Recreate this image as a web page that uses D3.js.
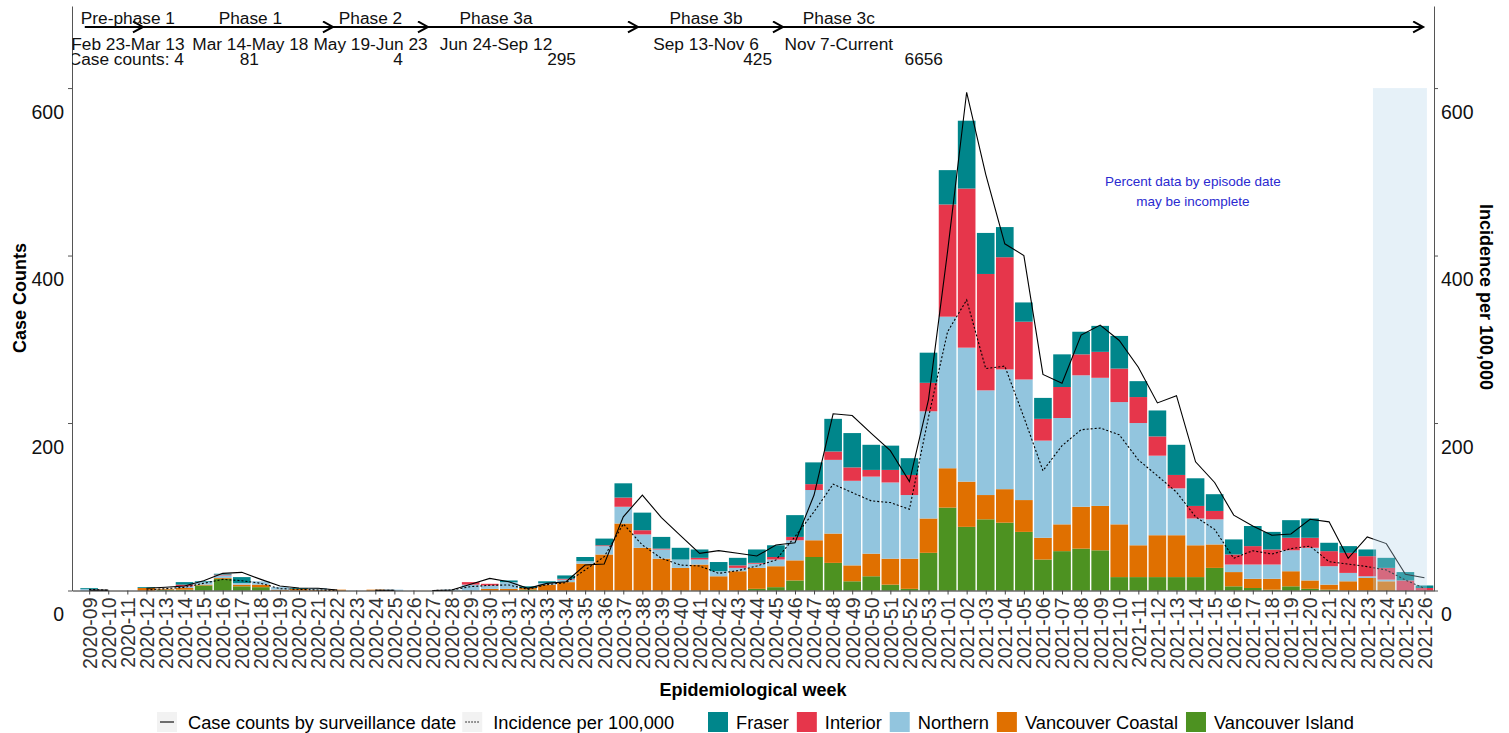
<!DOCTYPE html>
<html>
<head>
<meta charset="utf-8">
<script src="https://cdn.jsdelivr.net/npm/d3@7"></script>
<style>
  body { margin: 0; background: #fff; }
  text { font-family: "Liberation Sans", Arial, sans-serif; }
</style>
</head>
<body>
<svg id="chart"></svg>
<script>
// epidemiological weeks (x categories)
var weeks = ['2020-09','2020-10','2020-11','2020-12','2020-13','2020-14','2020-15','2020-16','2020-17','2020-18',
  '2020-19','2020-20','2020-21','2020-22','2020-23','2020-24','2020-25','2020-26','2020-27','2020-28',
  '2020-29','2020-30','2020-31','2020-32','2020-33','2020-34','2020-35','2020-36','2020-37','2020-38',
  '2020-39','2020-40','2020-41','2020-42','2020-43','2020-44','2020-45','2020-46','2020-47','2020-48',
  '2020-49','2020-50','2020-51','2020-52','2020-53','2021-01','2021-02','2021-03','2021-04','2021-05',
  '2021-06','2021-07','2021-08','2021-09','2021-10','2021-11','2021-12','2021-13','2021-14','2021-15',
  '2021-16','2021-17','2021-18','2021-19','2021-20','2021-21','2021-22','2021-23','2021-24','2021-25',
  '2021-26']

// case counts by health authority
var fraser = [1,0,0,1,0,3,1,1,7,0, 0,1,0,0,0,0,0,0,0,0, 0,0,2,2,2,4,5,8,17,21,
  14,14,10,11,9,16,14,26,26,39, 41,30,29,20,36,41,81,49,36,23, 25,39,27,31,39,19,31,36,33,20,
  18,24,21,21,23,10,8,8,12,10, 3]
var interior = [0,0,0,0,0,2,0,1,0,0, 0,0,0,0,0,0,0,0,0,0, 3,2,0,0,0,1,0,1,11,5,
  1,0,2,0,3,1,3,4,7,10, 16,8,15,24,34,134,190,139,134,69, 26,37,25,31,40,31,23,16,15,10,
  12,22,18,15,12,18,24,24,14,12, 3]
var northern = [2,0,0,0,0,2,3,3,2,4, 3,0,2,0,0,0,1,0,0,1, 7,4,8,0,2,3,3,10,20,16,
  11,10,6,6,4,5,8,24,60,88, 101,92,91,76,128,181,160,125,143,144, 116,127,157,153,146,146,95,56,32,30,
  9,17,17,25,39,22,10,2,2,0, 0]
var vanCoastal = [0,0,0,3,1,2,1,1,2,3, 1,2,1,1,0,1,0,0,0,0, 0,2,2,2,7,10,32,43,80,51,
  38,27,31,17,23,25,25,24,20,35, 19,27,31,36,41,47,54,29,40,38, 26,32,50,53,63,38,50,50,38,28,
  17,11,13,18,10,6,11,15,11,0, 0]
var vanIsland = [0,0,0,0,1,1,6,14,5,4, 0,0,0,0,0,0,0,0,0,0, 0,0,0,1,0,0,0,0,0,0,
  0,0,0,0,0,2,4,12,40,33, 11,17,7,2,45,99,76,85,81,70, 37,47,50,48,16,16,16,16,16,27,
  5,3,1,5,2,1,0,0,0,0, 0]

// lines
var surveillance = [0.5,0.5,null,2.6,3.8,5.4,11.7,20.5,21.7,13.3,
  5.4,3,2.6,0.6,null,0.3,0.3,null,0,0.6,
  7.4,14.5,10.5,2.6,8.5,10.5,30.4,31.6,88,114,
  87,65.5,44.4,47.6,44.4,41.2,54.3,57,114,211,
  209,187.6,167,130,228,405,595,497,414,400,
  258,247.5,305,317,298.6,266.7,224,232.6,153.7,129,
  90,77,66,67.5,85,82,38.4,64,56,19.3,
  15.3]
var incidence = [1.4,0.3,null,0.6,2.2,3.8,8.6,13.3,11.7,8.6,
  2.2,1.4,0.6,0.3,null,0.3,0.3,null,0,0.6,
  4.6,6.2,6.6,1.4,7,9.4,24.5,40.4,79.4,54.3,
  38.4,30.4,29.3,20.5,23.7,29.3,36.4,64.3,94,127,
  117,107,105,97,207,309,347,265,268,207,
  143,173,192,194,186,156,137,117.5,88,73,
  38.5,47.5,43.5,50,53,34.4,31.6,28.5,24.5,12.5,
  2.6]

// phase annotations (positions in week index units)
var phaseNames = ['Pre-phase 1','Phase 1','Phase 2','Phase 3a','Phase 3b','Phase 3c']
var phaseDates = ['Feb 23-Mar 13','Mar 14-May 18','May 19-Jun 23','Jun 24-Sep 12','Sep 13-Nov 6','Nov 7-Current']
var phaseCounts = ['Case counts: 4','81','4','295','425','6656']
var phaseBreaks = [-0.23, 2.82, 12.78, 17.76, 28.77, 36.37, 69.93]
var phaseCenters = [2.03, 8.45, 14.75, 21.33, 32.34, 39.3]
var countEnds = [4.97, 8.9, 16.45, 25.52, 35.8, 44.76]

var yTicks = [0, 200, 400, 600]
var regions = ['Fraser','Interior','Northern','Vancouver Coastal','Vancouver Island']
var colors = ['#00868b','#e6364b','#92c5de','#e07000','#4d9221']

var width = 1509, height = 733
var svg = d3.select('#chart').attr('width', width).attr('height', height)

var x = d3.scalePoint().domain(weeks).range([72, 1434]).padding(0.7).align(0.643)
var step = x.step()
var xi = d3.scaleLinear().domain([0, weeks.length - 1]).range([x(weeks[0]), x(weeks[weeks.length - 1])])
var y = d3.scaleLinear().domain([0, 698]).range([590.5, 6])
var color = d3.scaleOrdinal().domain(regions).range(colors)

// stacked bars
var rows = weeks.map(function (w, i) {
  return { week: w, 'Fraser': fraser[i], 'Interior': interior[i], 'Northern': northern[i],
    'Vancouver Coastal': vanCoastal[i], 'Vancouver Island': vanIsland[i] }
})
var stack = d3.stack().keys(regions.slice().reverse())
var series = stack(rows)
var bw = step * 0.925

svg.append('g').selectAll('g').data(series).enter().append('g')
  .attr('fill', function (d) { return color(d.key) })
  .selectAll('rect').data(function (d) { return d }).enter().append('rect')
  .attr('x', function (d) { return x(d.data.week) - bw / 2 })
  .attr('y', function (d) { return y(d[1]) })
  .attr('width', bw)
  .attr('height', function (d) { return y(d[0]) - y(d[1]) })

// lines
var line = d3.line()
  .defined(function (d) { return d != null })
  .x(function (d, i) { return x(weeks[i]) })
  .y(function (d) { return y(d) })
svg.append('path').datum(surveillance).attr('d', line)
  .attr('fill', 'none').attr('stroke', '#000').attr('stroke-width', 1.1)
svg.append('path').datum(incidence).attr('d', line)
  .attr('fill', 'none').attr('stroke', '#000').attr('stroke-width', 1.1).attr('stroke-dasharray', '2,2')

// incomplete-data shading
svg.append('rect')
  .attr('x', xi(67.3)).attr('width', xi(70.13) - xi(67.3))
  .attr('y', y(600)).attr('height', y(0) - y(600))
  .attr('fill', 'rgb(178,212,234)').attr('fill-opacity', 0.33)

svg.append('text')
  .attr('x', xi(57.86)).attr('y', y(483))
  .attr('text-anchor', 'middle').attr('font-size', '13.5px').attr('fill', '#2a2ad0')
  .text('Percent data by episode date')
svg.append('text')
  .attr('x', xi(57.86)).attr('y', y(459))
  .attr('text-anchor', 'middle').attr('font-size', '13.5px').attr('fill', '#2a2ad0')
  .text('may be incomplete')

// axes
var xAxis = svg.append('g').attr('transform', 'translate(0,' + y(0) + ')')
  .call(d3.axisBottom(x).tickSize(4).tickSizeOuter(0))
xAxis.selectAll('text')
  .attr('y', 0).attr('x', -7).attr('dy', '0.35em')
  .attr('transform', 'rotate(-90)').style('text-anchor', 'end')
  .attr('font-size', '19.5px').attr('fill', '#333').attr('font-family', null)
xAxis.select('.domain').attr('stroke', '#222')
xAxis.selectAll('.tick line').attr('stroke', '#444')

var leftAxis = svg.append('g').attr('transform', 'translate(72,0)')
  .call(d3.axisLeft(y).tickValues(yTicks).tickSize(4).tickSizeOuter(0).tickPadding(4))
var rightAxis = svg.append('g').attr('transform', 'translate(1434,0)')
  .call(d3.axisRight(y).tickValues(yTicks).tickSize(4).tickSizeOuter(0).tickPadding(3))
;[leftAxis, rightAxis].forEach(function (a) {
  a.selectAll('text').attr('font-size', '19.5px').attr('fill', '#111')
    .attr('font-family', null).attr('dy', '1.55em')
  a.select('.domain').attr('stroke', '#555')
  a.selectAll('.tick line').attr('stroke', '#555')
})

// axis titles
svg.append('text').attr('transform', 'translate(25.5,298) rotate(-90)')
  .attr('text-anchor', 'middle').attr('font-size', '18px').attr('font-weight', 'bold')
  .text('Case Counts')
svg.append('text').attr('transform', 'translate(1480,297) rotate(90)')
  .attr('text-anchor', 'middle').attr('font-size', '18px').attr('font-weight', 'bold')
  .text('Incidence per 100,000')
svg.append('text').attr('x', 753).attr('y', 696)
  .attr('text-anchor', 'middle').attr('font-size', '18px').attr('font-weight', 'bold')
  .text('Epidemiological week')

// phase annotations along the top
svg.append('defs').append('clipPath').attr('id', 'panel')
  .append('rect').attr('x', 72).attr('y', 0).attr('width', 1362).attr('height', 600)
svg.select('defs').append('marker').attr('id', 'chev')
  .attr('markerUnits', 'userSpaceOnUse').attr('markerWidth', 14).attr('markerHeight', 14)
  .attr('refX', 11).attr('refY', 6).attr('orient', 'auto')
  .append('path').attr('d', 'M1,0.5 L11,6 L1,11.5').attr('fill', 'none')
  .attr('stroke', '#000').attr('stroke-width', 2)

var ann = svg.append('g').attr('clip-path', 'url(#panel)')
ann.selectAll('line.phase').data(phaseNames).enter().append('line')
  .attr('class', 'phase')
  .attr('x1', function (d, i) { return xi(phaseBreaks[i]) })
  .attr('x2', function (d, i) { return xi(phaseBreaks[i + 1]) })
  .attr('y1', y(673)).attr('y2', y(673))
  .attr('stroke', '#000').attr('stroke-width', 2)
  .attr('marker-end', 'url(#chev)')
ann.selectAll('text.pname').data(phaseNames).enter().append('text')
  .attr('class', 'pname')
  .attr('x', function (d, i) { return xi(phaseCenters[i]) })
  .attr('y', y(677))
  .attr('text-anchor', 'middle').attr('font-size', '17.3px').attr('fill', '#111')
  .text(function (d) { return d })
ann.selectAll('text.pdate').data(phaseDates).enter().append('text')
  .attr('class', 'pdate')
  .attr('x', function (d, i) { return xi(phaseCenters[i]) })
  .attr('y', y(646))
  .attr('text-anchor', 'middle').attr('font-size', '17.3px').attr('fill', '#111')
  .text(function (d) { return d })
ann.selectAll('text.pcount').data(phaseCounts).enter().append('text')
  .attr('class', 'pcount')
  .attr('x', function (d, i) { return xi(countEnds[i]) })
  .attr('y', y(627.5))
  .attr('text-anchor', 'end').attr('font-size', '17.3px').attr('fill', '#111')
  .text(function (d) { return d })

// legend
var legend = svg.append('g').attr('transform', 'translate(0,722)')
var lineKeys = [{ label: 'Case counts by surveillance date', dash: null },
                { label: 'Incidence per 100,000', dash: '1.5,1.5' }]
var lx = 157
lineKeys.forEach(function (k) {
  legend.append('rect').attr('x', lx).attr('y', -10).attr('width', 20).attr('height', 20).attr('fill', '#f2f2f2')
  legend.append('line').attr('x1', lx + 3).attr('x2', lx + 17).attr('y1', 0).attr('y2', 0)
    .attr('stroke', '#000').attr('stroke-width', 1.1).attr('stroke-dasharray', k.dash)
  var t = legend.append('text').attr('x', lx + 31).attr('y', 6.5).attr('font-size', '18.3px').text(k.label)
  lx += 31 + t.node().getComputedTextLength() + 6
})
lx = 708
regions.forEach(function (r) {
  legend.append('rect').attr('x', lx).attr('y', -10).attr('width', 20).attr('height', 20).attr('fill', color(r))
  var t = legend.append('text').attr('x', lx + 28).attr('y', 6.5).attr('font-size', '18.3px').text(r)
  lx += 28 + t.node().getComputedTextLength() + 8
})
</script>
</body>
</html>
